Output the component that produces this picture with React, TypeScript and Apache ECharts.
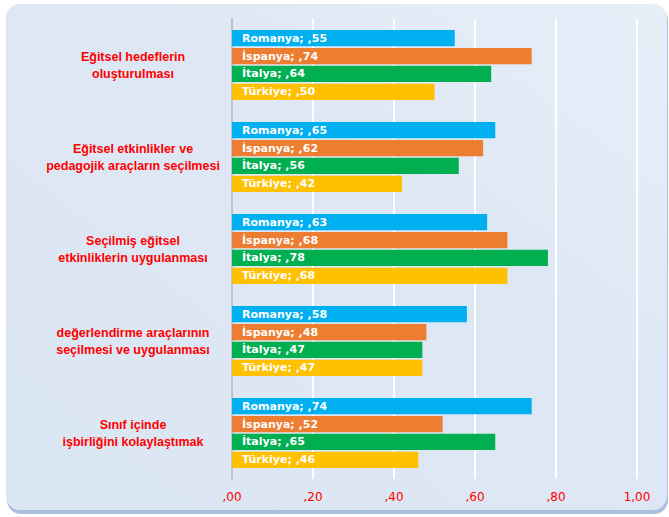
import React, { useEffect, useRef } from "react";
import * as echarts from "echarts";

const categories = [
  "Eğitsel hedeflerin\noluşturulması",
  "Eğitsel etkinlikler ve\npedagojik araçların seçilmesi",
  "Seçilmiş eğitsel\netkinliklerin uygulanması",
  "değerlendirme araçlarının\nseçilmesi ve uygulanması",
  "Sınıf içinde\nişbirliğini kolaylaştımak",
];
const seriesNames = ["Romanya", "İspanya", "İtalya", "Türkiye"];
const seriesColors = ["#00B0F0", "#ED7D31", "#00B050", "#FFC000"];
const romanya = [0.55, 0.65, 0.63, 0.58, 0.74];
const ispanya = [0.74, 0.62, 0.68, 0.48, 0.52];
const italya = [0.64, 0.56, 0.78, 0.47, 0.65];
const turkiye = [0.5, 0.42, 0.68, 0.47, 0.46];
const seriesValues = [romanya, ispanya, italya, turkiye];

const fmt = (v: number) => v.toFixed(2).replace(".", ",").replace(/^0/, "");

export default function App() {
  const ref = useRef<HTMLDivElement>(null);
  useEffect(() => {
    document.body.style.margin = "0";
    const chart = echarts.init(ref.current!, null, { renderer: "svg" });
    chart.setOption({
      animation: false,
      backgroundColor: "#ffffff",
      graphic: [
        {
          type: "rect",
          z: -10,
          shape: { x: 7, y: 7, width: 661, height: 507, r: 14 },
          style: { fill: "#a9bfe0" },
          silent: true,
        },
        {
          type: "rect",
          z: -9,
          shape: { x: 6, y: 4, width: 661, height: 506, r: 14 },
          style: {
            fill: new echarts.graphic.LinearGradient(1, 0, 0, 1, [
              { offset: 0, color: "#e6eef8" },
              { offset: 0.4, color: "#dee8f4" },
              { offset: 1, color: "#dbe6f3" },
            ]),
          },
          silent: true,
        },
      ],
      grid: { left: 232, right: 32, top: 19, bottom: 38, containLabel: false },
      xAxis: {
        type: "value",
        min: 0,
        max: 1,
        interval: 0.2,
        axisLine: { show: false },
        axisTick: { show: false },
        splitLine: { show: true, lineStyle: { color: "#ffffff", width: 2 } },
        axisLabel: {
          color: "#FF0000",
          fontFamily: "DejaVu Sans",
          fontSize: 12,
          margin: 12,
          formatter: (v: number) => fmt(v),
        },
      },
      yAxis: {
        type: "category",
        inverse: true,
        data: categories,
        axisLine: { show: true, lineStyle: { color: "#c0c4c8", width: 2 } },
        axisTick: { show: false },
        axisLabel: {
          color: "#FF0000",
          fontFamily: "Liberation Sans",
          fontWeight: "bold",
          fontSize: 12.5,
          lineHeight: 17,
          align: "center",
          margin: 99,
        },
      },
      series: seriesNames.map((name, i) => ({
        name,
        type: "bar",
        data: seriesValues[i],
        barCategoryGap: "24%",
        barGap: "10%",
        itemStyle: { color: seriesColors[i] },
        label: {
          show: true,
          position: "insideLeft",
          distance: 10,
          color: "#ffffff",
          fontFamily: "DejaVu Sans",
          fontWeight: "bold",
          fontSize: 11,
          formatter: (p: any) => `${name}; ${fmt(p.value)}`,
        },
      })),
    });
    return () => chart.dispose();
  }, []);
  return <div ref={ref} style={{ width: 669, height: 517 }} />;
}
